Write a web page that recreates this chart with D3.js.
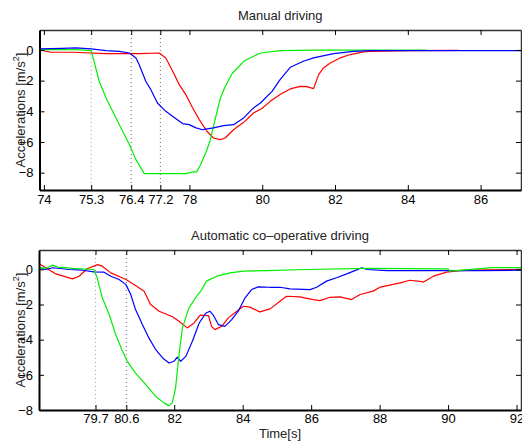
<!DOCTYPE html>
<html>
<head>
  <meta charset="utf-8">
  <title>Accelerations</title>
  <style>
    body { margin: 0; background: #fff; }
    svg { font-family: "Liberation Sans", Arial, sans-serif; }
    .tick text { font-size: 13px; fill: #000; }
    .title { font-size: 13px; fill: #222; text-anchor: middle; }
    .label { font-size: 13px; fill: #222; text-anchor: middle; }
  </style>
</head>
<body>
  <svg id="chart" width="522" height="441"></svg>

  <script src="https://d3js.org/d3.v7.min.js"></script>
  <script>
    // time [s], acceleration [m/s^2]
    const manualRed = [[73.88,0.0],[74.2,-0.15],[74.79,-0.15],[75.71,-0.24],[76.62,-0.24],[77.17,-0.2],[77.35,-0.52],[77.54,-1.39],[77.72,-2.26],[77.9,-2.91],[78.09,-3.78],[78.27,-4.54],[78.48,-5.3],[78.66,-5.74],[78.85,-5.85],[78.98,-5.74],[79.21,-5.2],[79.49,-4.72],[79.76,-4.11],[79.99,-3.82],[80.22,-3.35],[80.49,-2.91],[80.77,-2.54],[81.04,-2.37],[81.23,-2.39],[81.41,-2.52],[81.55,-1.61],[81.68,-1.17],[81.87,-0.85],[82.14,-0.52],[82.42,-0.3],[82.78,-0.13],[82.97,-0.09],[84,-0.04],[85.4,-0.03]];
    const manualBlue = [[73.88,0.07],[74.5,0.1],[74.88,0.13],[75.3,0.07],[75.71,-0.04],[76.07,-0.09],[76.35,-0.2],[76.53,-0.52],[76.62,-0.96],[76.8,-2.04],[76.94,-2.59],[77.12,-3.46],[77.35,-4.0],[77.63,-4.48],[77.81,-4.8],[77.99,-4.87],[78.18,-5.08],[78.36,-5.2],[78.66,-5.08],[78.94,-4.93],[79.21,-4.87],[79.49,-4.43],[79.76,-3.78],[79.95,-3.46],[80.27,-2.7],[80.49,-1.93],[80.77,-1.13],[81.13,-0.74],[81.41,-0.52],[81.96,-0.24],[82.51,-0.09],[82.97,-0.04],[85,-0.05],[87.12,-0.05]];
    const manualGreen = [[73.88,0.02],[74.5,0.03],[75.0,0.0],[75.3,-0.05],[75.38,-0.74],[75.52,-2.04],[75.71,-3.13],[75.98,-4.43],[76.35,-6.17],[76.53,-7.15],[76.76,-8.06],[77.9,-8.06],[78.09,-7.95],[78.2,-7.95],[78.3,-7.5],[78.45,-6.7],[78.57,-5.9],[78.71,-4.5],[78.85,-3.13],[78.98,-2.4],[79.17,-1.55],[79.49,-0.74],[79.95,-0.2],[80.5,-0.05],[81.5,-0.01],[84.5,-0.01]];

    const autoRed = [[78.05,0.31],[78.25,0.09],[78.54,-0.26],[79.03,-0.54],[79.22,-0.39],[79.47,0.05],[79.76,0.27],[79.9,0.18],[80.15,-0.2],[80.59,-0.58],[80.87,-0.92],[81.12,-1.24],[81.31,-2.0],[81.56,-2.38],[81.95,-2.7],[82.14,-2.95],[82.38,-3.33],[82.58,-3.05],[82.76,-2.6],[83.0,-2.63],[83.09,-3.24],[83.19,-3.43],[83.39,-3.24],[83.58,-2.76],[83.83,-2.38],[84.02,-2.1],[84.21,-2.15],[84.5,-2.42],[84.8,-2.25],[85.09,-1.81],[85.28,-1.53],[85.67,-1.57],[86.06,-1.72],[86.26,-1.78],[86.55,-1.59],[86.84,-1.57],[87.18,-1.72],[87.43,-1.43],[87.81,-1.24],[88.02,-1.01],[88.6,-0.77],[88.88,-0.62],[89.18,-0.68],[89.27,-0.73],[89.57,-0.39],[89.96,-0.16],[90.34,-0.07],[91.12,-0.03],[92.13,0.0]];
    const autoBlue = [[78.05,0.09],[78.25,-0.01],[78.45,0.09],[78.93,-0.01],[79.32,-0.05],[79.65,-0.14],[79.95,-0.16],[80.15,-0.39],[80.39,-0.58],[80.59,-0.87],[80.73,-1.43],[80.87,-2.29],[81.07,-3.14],[81.26,-3.9],[81.46,-4.57],[81.66,-5.04],[81.85,-5.33],[81.99,-5.23],[82.09,-5.0],[82.19,-5.23],[82.34,-4.95],[82.53,-4.09],[82.73,-3.05],[82.92,-2.5],[83.04,-2.38],[83.14,-2.6],[83.29,-3.14],[83.48,-3.24],[83.68,-2.86],[83.87,-2.38],[84.07,-1.62],[84.26,-1.15],[84.45,-1.0],[84.8,-1.02],[85.09,-1.02],[85.38,-1.11],[85.97,-1.15],[86.16,-1.02],[86.45,-0.67],[86.74,-0.48],[87.04,-0.26],[87.33,-0.03],[87.48,0.09],[87.63,-0.01],[88.22,-0.07],[91.0,-0.07],[92.13,-0.05]];
    const autoGreen = [[78.05,0.05],[78.31,0.1],[78.45,0.24],[78.59,0.13],[78.83,0.1],[79.02,0.05],[79.65,-0.01],[79.75,-0.48],[79.9,-1.62],[80.1,-2.57],[80.29,-3.71],[80.49,-4.66],[80.63,-5.23],[80.87,-5.9],[81.17,-6.56],[81.46,-7.23],[81.71,-7.61],[81.85,-7.75],[81.94,-7.61],[82.04,-6.75],[82.14,-4.85],[82.24,-3.33],[82.43,-2.19],[82.63,-1.6],[82.79,-1.2],[82.94,-0.67],[83.24,-0.39],[83.63,-0.2],[84.02,-0.1],[84.7,-0.07],[85.87,-0.01],[87.63,0.05],[90.0,0.03],[90.05,-0.1],[90.4,-0.05],[91.29,0.1],[92.13,0.1]];

    const manualTicks = [74, 75.3, 76.4, 77.2, 78, 80, 82, 84, 86];
    const manualMarks = [75.3, 76.4, 77.2];
    const autoTicks = [79.7, 80.6, 82, 84, 86, 88, 90, 92];
    const autoMarks = [79.7, 80.6];
    const yTicks = [0, -2, -4, -6, -8];

    const svg = d3.select('#chart');
    const fmt = d => (d < 0 ? '\u2212' : '') + Math.abs(d);

    function panel(cfg) {
      const x = d3.scaleLinear().domain(cfg.xDomain).range([cfg.left, cfg.right]);
      const y = d3.scaleLinear().domain(cfg.yDomain).range([cfg.bottom, cfg.top]);
      const g = svg.append('g');

      g.append('clipPath').attr('id', cfg.id)
        .append('rect')
        .attr('x', cfg.left).attr('y', cfg.top)
        .attr('width', cfg.right - cfg.left).attr('height', cfg.bottom - cfg.top);

      // dotted marker lines
      g.selectAll('.mark').data(cfg.marks).enter().append('line')
        .attr('x1', d => x(d)).attr('x2', d => x(d))
        .attr('y1', cfg.top).attr('y2', cfg.bottom)
        .attr('stroke', (d, i) => i === 0 ? '#aaa' : '#666')
        .attr('stroke-width', 1)
        .attr('stroke-dasharray', '1,3');

      const line = d3.line().x(d => x(d[0])).y(d => y(d[1]));
      const lines = g.append('g').attr('clip-path', 'url(#' + cfg.id + ')');
      cfg.series.forEach(s => {
        lines.append('path')
          .attr('d', line(s.data))
          .attr('fill', 'none')
          .attr('stroke', s.color)
          .attr('stroke-width', 1.2)
          .attr('stroke-linejoin', 'round');
      });

      // box: thin top/right, heavy left/bottom
      g.append('g').attr('transform', 'translate(0,' + cfg.top + ')')
        .call(d3.axisTop(x).tickValues(cfg.ticks).tickSizeInner(-5).tickSizeOuter(0).tickFormat(''))
        .call(a => a.select('.domain').attr('stroke', '#333').attr('stroke-width', 1.5));
      g.append('g').attr('transform', 'translate(' + cfg.right + ',0)')
        .call(d3.axisRight(y).tickValues(yTicks).tickSizeInner(-5).tickSizeOuter(0).tickFormat(''))
        .call(a => a.select('.domain').attr('stroke', '#333').attr('stroke-width', 1.5));

      g.append('g').attr('transform', 'translate(0,' + cfg.bottom + ')')
        .call(d3.axisBottom(x).tickValues(cfg.ticks).tickSizeInner(-5).tickSizeOuter(0).tickPadding(cfg.xPad).tickFormat(d => String(d)))
        .call(a => a.select('.domain').attr('stroke', '#000').attr('stroke-width', 2));
      g.append('g').attr('transform', 'translate(' + cfg.left + ',0)')
        .call(d3.axisLeft(y).tickValues(yTicks).tickSizeInner(-5).tickSizeOuter(0).tickPadding(6).tickFormat(fmt))
        .call(a => a.select('.domain').attr('stroke', '#000').attr('stroke-width', 2));
      g.selectAll('.tick text').attr('font-family', null).attr('font-size', null);

      g.append('text').attr('class', 'title')
        .attr('x', (cfg.left + cfg.right) / 2).attr('y', cfg.top - 10)
        .text(cfg.title);

      const yl = g.append('text').attr('class', 'label')
        .attr('transform', 'translate(25,' + (cfg.top + cfg.bottom) / 2 + ') rotate(-90)');
      yl.append('tspan').text('Accelerations [m/s');
      yl.append('tspan').attr('font-size', '9px').attr('dy', -6).text('2');
      yl.append('tspan').attr('dy', 6).text(']');
    }

    panel({
      id: 'clip-manual', title: 'Manual driving',
      left: 39.5, right: 521, top: 30, bottom: 190,
      xDomain: [73.88, 87.11], yDomain: [-9.13, 1.3],
      ticks: manualTicks, marks: manualMarks, xPad: 5,
      series: [
        { data: manualRed, color: '#ff0000' },
        { data: manualGreen, color: '#00ee00' },
        { data: manualBlue, color: '#0000ff' }
      ]
    });

    panel({
      id: 'clip-auto', title: 'Automatic co\u2013operative driving',
      left: 39, right: 521, top: 250, bottom: 410,
      xDomain: [78.05, 92.13], yDomain: [-8, 1.1],
      ticks: autoTicks, marks: autoMarks, xPad: 4,
      series: [
        { data: autoRed, color: '#ff0000' },
        { data: autoBlue, color: '#0000ff' },
        { data: autoGreen, color: '#00ee00' }
      ]
    });

    svg.append('text').attr('class', 'label')
      .attr('x', 280).attr('y', 438)
      .text('Time[s]');
  </script>
</body>
</html>
